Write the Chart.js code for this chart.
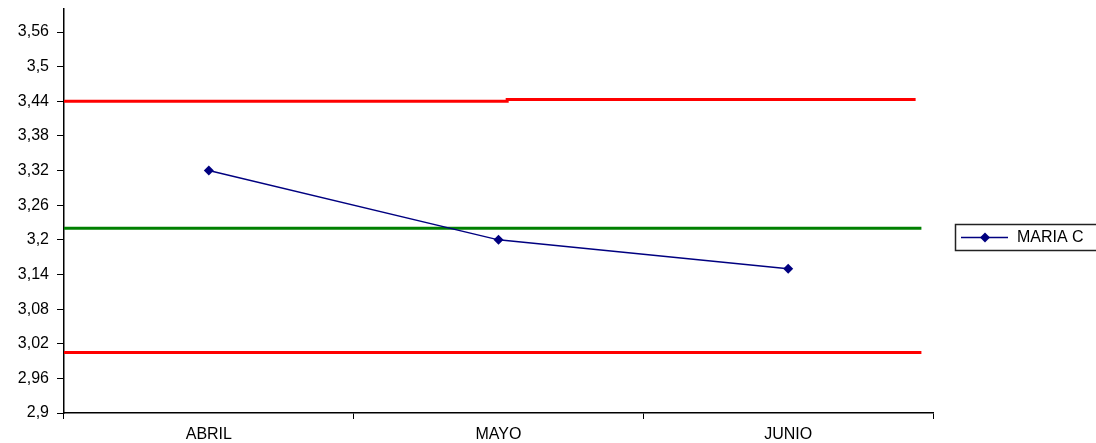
<!DOCTYPE html>
<html>
<head>
<meta charset="utf-8">
<script src="https://cdn.jsdelivr.net/npm/chart.js@4/dist/chart.umd.min.js"></script>
<style>
  html, body { margin: 0; padding: 0; background: #fff; }
  #wrap { width: 1096px; height: 443px; }
</style>
</head>
<body>
<div id="wrap"><canvas id="chart"></canvas></div>
<script>
// Chart data
const categories = ['ABRIL', 'MAYO', 'JUNIO'];
const mariaValues = [3.32, 3.2, 3.15];
const yTicks = [2.9, 2.96, 3.02, 3.08, 3.14, 3.2, 3.26, 3.32, 3.38, 3.44, 3.5, 3.56];

// Control lines (x in category units, 0 = left edge of ABRIL, 3 = right edge of JUNIO)
const upperX = [0, 1.53, 1.53, 2.94];
const upperY = [3.44, 3.44, 3.443, 3.443];
const centerX = [0, 2.96];
const centerY = [3.22, 3.22];
const lowerX = [0, 2.96];
const lowerY = [3.005, 3.005];

const FONT = { family: '"Liberation Sans", Arial, sans-serif', size: 16 };

function toPoints(xs, ys) {
    return xs.map((x, i) => ({ x: x, y: ys[i] }));
}

function formatTick(value) {
    return parseFloat(value.toFixed(2)).toString().replace('.', ',');
}

// Legend box drawn on the canvas, only the MARIA C series
const legendPlugin = {
    id: 'sideLegend',
    afterDraw(chart) {
        const ctx = chart.ctx;
        const ds = chart.data.datasets[0];
        const x = 955, y = 224, w = 150, h = 26;
        ctx.save();
        ctx.strokeStyle = '#222';
        ctx.lineWidth = 1.5;
        ctx.strokeRect(x + 0.5, y + 0.5, w, h);
        const cy = y + h / 2 + 0.5;
        ctx.strokeStyle = ds.borderColor;
        ctx.lineWidth = 1.5;
        ctx.beginPath();
        ctx.moveTo(x + 6, cy);
        ctx.lineTo(x + 53, cy);
        ctx.stroke();
        ctx.fillStyle = ds.borderColor;
        ctx.beginPath();
        ctx.moveTo(x + 30, cy - 5);
        ctx.lineTo(x + 35, cy);
        ctx.lineTo(x + 30, cy + 5);
        ctx.lineTo(x + 25, cy);
        ctx.closePath();
        ctx.fill();
        ctx.fillStyle = '#000';
        ctx.font = FONT.size + 'px ' + FONT.family;
        ctx.textBaseline = 'middle';
        ctx.fillText(ds.label, x + 62, cy);
        ctx.restore();
    }
};

new Chart(document.getElementById('chart').getContext('2d'), {
    type: 'line',
    data: {
        datasets: [
            {
                label: 'MARIA C',
                data: mariaValues.map((v, i) => ({ x: i + 0.5, y: v })),
                borderColor: '#000080',
                backgroundColor: '#000080',
                borderWidth: 1.5,
                pointStyle: 'rectRot',
                pointRadius: 5,
                pointBorderWidth: 0,
                order: 0
            },
            {
                label: 'LSC',
                data: toPoints(upperX, upperY),
                borderColor: '#ff0000',
                borderWidth: 3,
                pointRadius: 0,
                order: 1
            },
            {
                label: 'LC',
                data: toPoints(centerX, centerY),
                borderColor: '#008000',
                borderWidth: 3,
                pointRadius: 0,
                order: 1
            },
            {
                label: 'LIC',
                data: toPoints(lowerX, lowerY),
                borderColor: '#ff0000',
                borderWidth: 3,
                pointRadius: 0,
                order: 1
            }
        ]
    },
    options: {
        responsive: true,
        maintainAspectRatio: false,
        animation: false,
        layout: { padding: { top: 9, right: 163, bottom: 0, left: 0 } },
        plugins: {
            legend: { display: false },
            tooltip: { enabled: false }
        },
        scales: {
            x: {
                type: 'linear',
                min: 0,
                max: 3,
                display: false
            },
            xCat: {
                type: 'category',
                labels: categories,
                position: 'bottom',
                offset: true,
                afterFit: scale => { scale.height = 30; },
                grid: {
                    offset: true,
                    drawOnChartArea: false,
                    drawTicks: true,
                    tickLength: 6,
                    color: '#000'
                },
                border: { color: '#000', width: 1.5 },
                ticks: { color: '#000', font: FONT, padding: 6, maxRotation: 0 }
            },
            y: {
                min: 2.9,
                max: 3.6,
                afterBuildTicks: scale => {
                    scale.ticks = yTicks.map(v => ({ value: v }));
                },
                afterFit: scale => {
                    scale.width = 64;
                    scale.paddingTop = 0;
                    scale.paddingBottom = 0;
                },
                grid: {
                    drawOnChartArea: false,
                    drawTicks: true,
                    tickLength: 7,
                    color: '#000'
                },
                border: { color: '#000', width: 1.5 },
                ticks: {
                    color: '#000',
                    font: FONT,
                    padding: 8,
                    callback: value => formatTick(value)
                }
            }
        }
    },
    plugins: [legendPlugin]
});
</script>
</body>
</html>
